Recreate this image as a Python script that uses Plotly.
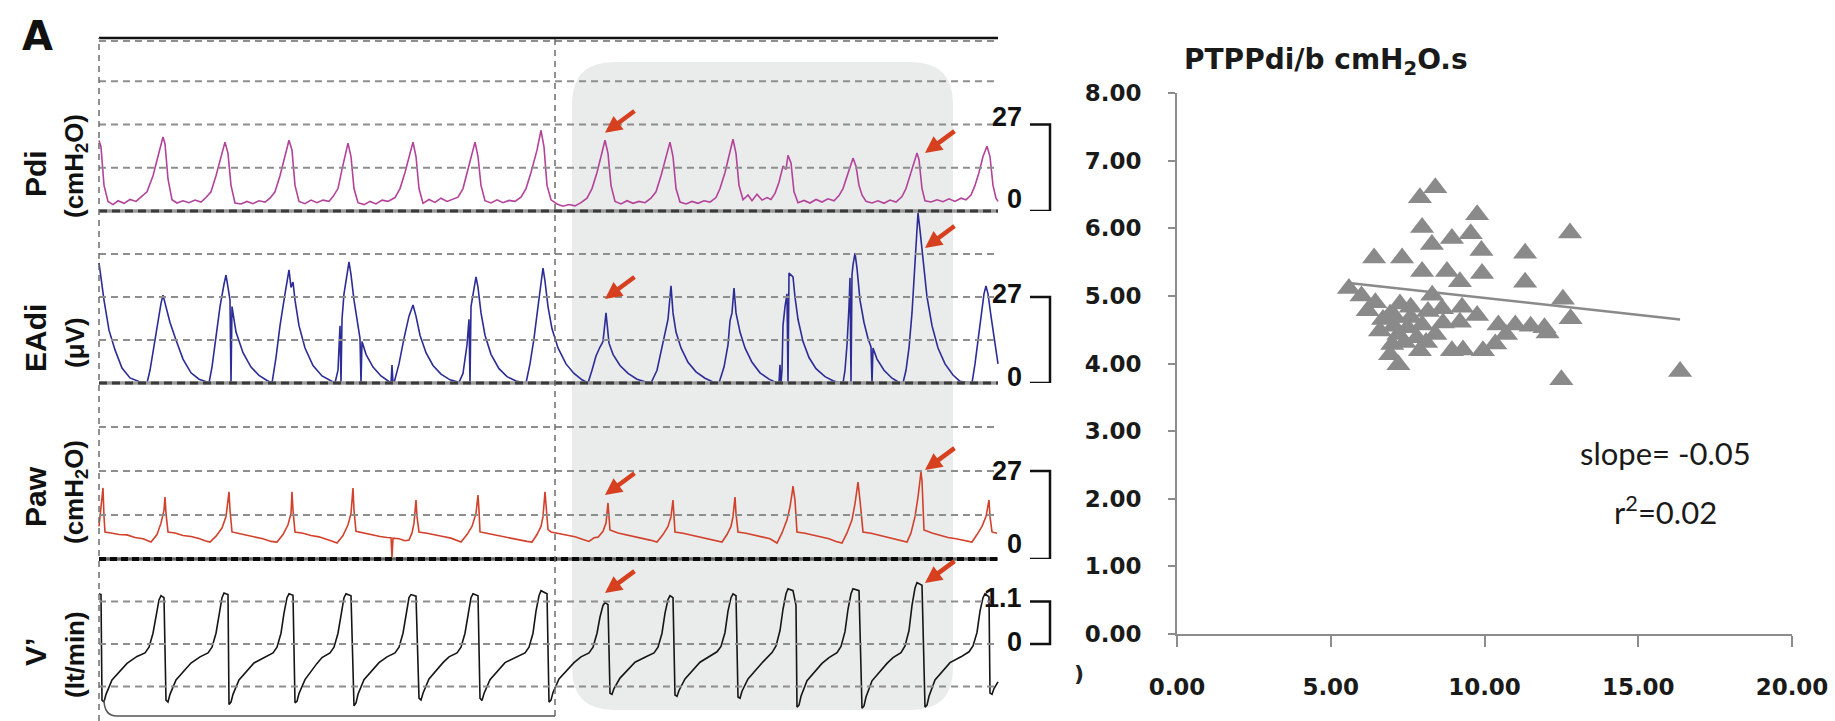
import plotly.graph_objects as go

W, H = 1835, 721
FS = 30.0  # waveform samples per second

# ---------------- waveform recordings: (sample, value) ----------------
pdi_pts = [
    (0, 22.0), (2, 20), (5, 8), (9, 3.0), (14, 2.0), (19, 3.2), (25, 2.4), (31, 3.6), (37, 3.0), (42, 4.4),
    (48, 6), (54, 11), (59, 17), (64, 23.1), (66, 21), (69, 10), (73, 3.5), (78, 2.5), (84, 3.2), (90, 2.6), (96, 3.4), (102, 2.8), (107, 4.2),
    (112, 6), (117, 11), (122, 17), (126, 21.5), (129, 18), (132, 8), (136, 2.5), (142, 2.2), (148, 3.0), (154, 2.3), (160, 3.2), (166, 2.8), (171, 4.0),
    (176, 6), (181, 11), (186, 17), (190, 22.1), (193, 19), (196, 8), (200, 3), (206, 2.3), (212, 3.4), (218, 2.6), (224, 3.4), (230, 3.0), (234, 4.5),
    (239, 7), (243, 13), (247, 19), (249, 21.2), (252, 17), (255, 7), (259, 2.6), (265, 2.0), (271, 3.0), (277, 2.2), (283, 3.4), (289, 3.0), (296, 4.2),
    (301, 7), (306, 12), (311, 18), (314, 21.5), (317, 17), (320, 7), (324, 2.4), (330, 3.6), (336, 2.7), (342, 4.0), (348, 3.0), (354, 3.8), (359, 4.3),
    (364, 7), (368, 12), (373, 18), (376, 21.5), (379, 17), (382, 8), (386, 3.2), (392, 2.5), (398, 3.5), (404, 2.6), (410, 3.3), (416, 3.0), (422, 4.3),
    (427, 7), (432, 12), (438, 19), (442, 25.2), (445, 20), (448, 8), (452, 3.5), (458, 2.2), (464, 1.5), (470, 2.0), (476, 1.6), (482, 2.6), (488, 4.0),
    (493, 7), (498, 12), (502, 17), (506, 22.1), (509, 18), (512, 8), (516, 3.0), (522, 2.2), (528, 3.2), (534, 2.4), (540, 3.0), (546, 2.6), (552, 4.0),
    (557, 6), (562, 11), (567, 17), (571, 21.5), (574, 17), (577, 7), (581, 2.8), (587, 2.2), (593, 3.0), (599, 2.4), (605, 3.2), (611, 2.8), (617, 4.2),
    (621, 7), (626, 12), (631, 18), (634, 22.4), (637, 18), (640, 8), (644, 3.5), (649, 5.0), (653, 3.2), (658, 5.2), (663, 3.4), (668, 4.2), (672, 3.6), (676, 5.5),
    (680, 9), (684, 14), (687, 13), (689, 17.4), (692, 15), (695, 6), (699, 2.6), (705, 3.3), (711, 2.5), (717, 3.6), (723, 2.8), (729, 3.8), (735, 3.2), (740, 4.8),
    (744, 7), (748, 11), (752, 15), (754, 16.5), (757, 14), (760, 8), (763, 5), (767, 3.0), (773, 2.5), (779, 3.2), (785, 2.4), (791, 3.4), (797, 2.8), (803, 4.5),
    (807, 7), (811, 11), (815, 15), (818, 18.1), (820, 16), (823, 7), (826, 3.2), (832, 2.8), (838, 3.5), (844, 2.9), (850, 3.8), (856, 3.0), (862, 4.0), (867, 3.5), (872, 5.0),
    (876, 8), (880, 12), (884, 17), (888, 20.2), (891, 17), (894, 8), (897, 4.0), (899, 3.0),
]

eadi_pts = [
    (0, 37.7), (5, 26), (10, 16.6), (16, 10.4), (23, 4.7), (31, 1.6), (41, 0.3), (48, 0),
    (51, 4), (55, 12), (59, 20), (62, 25), (64, 27.6), (67, 24), (71, 19), (77, 13.5), (84, 7.5), (92, 3.2), (100, 1.2), (108, 0.3), (110, 0),
    (113, 5), (117, 14), (121, 24), (125, 31), (127, 33.9), (129, 30), (131, 26), (132, 0), (133, 24), (137, 16), (144, 9.5), (152, 5), (160, 2.4), (168, 0.8), (173, 0),
    (177, 8), (181, 18), (186, 28), (190, 35.5), (192, 30), (194, 31.7), (196, 26), (200, 18), (206, 11), (214, 5.5), (223, 2.2), (233, 0.3), (236, 0),
    (239, 4), (241, 18), (242, 0), (243, 20), (245, 28), (248, 35), (250, 38), (252, 34), (255, 26), (259, 18), (261, 14), (262, 0), (263, 13), (267, 9), (274, 5), (282, 2.2), (291, 0.3), (292, 0), (293, 5.6), (294, 0),
    (295, 0), (300, 6), (305, 14), (310, 21), (314, 24.5), (317, 21), (321, 15), (327, 9.5), (334, 5.5), (342, 2.8), (351, 1), (360, 0.2),
    (364, 3), (368, 12), (370, 20), (371, 0), (372, 24), (375, 30), (377, 33.3), (379, 30), (382, 22), (386, 15), (392, 9), (400, 4.5), (408, 2), (417, 0.6), (425, 0),
    (427, 0), (431, 6), (435, 14), (439, 24), (442, 32), (444, 36.1), (446, 32), (449, 24), (453, 17), (459, 11), (467, 6), (475, 3), (483, 1), (489, 0),
    (493, 4), (497, 8.5), (501, 11.3), (504, 13), (507, 22.0), (509, 16), (510, 12.5), (514, 9), (521, 5.5), (529, 3), (538, 1.2), (547, 0.3), (552, 0),
    (558, 4), (562, 10), (566, 15.7), (569, 20), (572, 30.5), (574, 22), (577, 16), (582, 11), (589, 6.5), (597, 3.5), (606, 1.5), (614, 0.3), (620, 0),
    (625, 5), (629, 12), (631, 19.5), (633, 22), (635, 29.8), (637, 22), (641, 16), (646, 11), (653, 6.5), (661, 3.2), (670, 1.2), (678, 0), (680, 0), (681, 5.7), (682, 0),
    (683, 4), (684, 18), (686, 24), (688, 28), (689, 0), (690, 34.5), (694, 33.3), (696, 27), (699, 20), (704, 13), (710, 8), (717, 4.5), (726, 2), (734, 0.7), (741, 0),
    (744, 0), (746, 4), (748, 12), (750, 24), (751, 33), (752, 0), (753, 34), (754, 37), (756, 40.8), (758, 36), (761, 26), (765, 19), (769, 14), (772, 11.3), (773, 0), (774, 11), (778, 7.5), (785, 4), (793, 1.5), (801, 0),
    (804, 0), (807, 4), (810, 11), (813, 22), (816, 38), (818, 50), (819, 53.4), (821, 48), (824, 38), (828, 27), (833, 18), (839, 11), (846, 6), (854, 2.5), (861, 0.5), (873, 0),
    (876, 6), (879, 14), (882, 22), (885, 28), (887, 30.5), (889, 28), (892, 21), (896, 12), (899, 6),
]

paw_pts = [
    (0, 10), (1, 12.9), (3, 18), (4, 21.8), (5, 13), (6, 8.3), (12, 8.0), (20, 7.5), (28, 7.4), (36, 6.6), (44, 6.2), (50, 5.3),
    (52, 5.2), (58, 7.5), (62, 11), (65, 15), (66, 19.0), (67, 14), (69, 8.3), (76, 8.0), (84, 7.2), (92, 6.9), (100, 6.3), (106, 5.6), (111, 5.2),
    (117, 7), (123, 9.5), (127, 13), (130, 20.6), (131, 15), (133, 8.3), (140, 7.8), (148, 7.3), (156, 6.7), (164, 6.2), (172, 5.4), (178, 5.2),
    (184, 7.5), (189, 10.5), (192, 14), (193, 20.6), (194, 15), (196, 8.3), (204, 7.9), (212, 7.2), (220, 6.8), (228, 6.1), (234, 5.4), (238, 4.9),
    (244, 7.2), (249, 10.5), (252, 14), (254, 21.8), (255, 15), (257, 8.5), (265, 7.9), (273, 7.4), (281, 6.9), (288, 6.6), (292, 6.5), (293, 0.6), (294, 6.4), (300, 6.2), (306, 5.6), (310, 5.8),
    (313, 8), (315, 11), (317, 18.1), (318, 13), (320, 8.3), (328, 7.9), (336, 7.3), (344, 6.9), (352, 6.4), (358, 5.6), (362, 5.2),
    (368, 7.5), (373, 10), (377, 14), (379, 19.6), (380, 15), (381, 8.3), (389, 7.8), (397, 7.3), (405, 6.8), (413, 6.2), (421, 5.8), (428, 5.4), (433, 5.2),
    (438, 7.5), (442, 10), (444, 13), (446, 20.6), (448, 14), (449, 9), (452, 8.3), (460, 7.8), (468, 7.2), (476, 6.8), (484, 6.0), (490, 5.4), (495, 6.5),
    (499, 6.7), (504, 8.5), (507, 11), (509, 17.2), (510, 12), (511, 8.9), (519, 8.0), (527, 7.5), (535, 6.9), (543, 6.4), (551, 5.8), (558, 5.2),
    (564, 7.5), (569, 10), (572, 13), (574, 18.1), (575, 13), (576, 8.3), (584, 7.9), (592, 7.3), (600, 6.8), (608, 6.2), (616, 5.6), (623, 5.2),
    (628, 7.5), (632, 10), (634, 13), (636, 19.0), (637, 14), (639, 8.3), (647, 7.9), (655, 7.4), (663, 6.8), (671, 6.2), (678, 4.9),
    (683, 8), (688, 12), (691, 16), (693, 20), (694, 22.4), (696, 18), (698, 8.3), (706, 7.9), (714, 7.3), (722, 6.9), (730, 6.2), (737, 5.4), (743, 4.9),
    (748, 8), (753, 12), (756, 17), (759, 23.6), (761, 18), (764, 8.3), (772, 7.9), (780, 7.3), (788, 6.8), (796, 6.2), (803, 5.6), (808, 5.2),
    (812, 8), (816, 13), (819, 19), (822, 26.7), (823, 24), (825, 8.9), (833, 8.0), (841, 7.3), (849, 6.6), (857, 6.2), (865, 5.8), (873, 5.2),
    (878, 7.5), (883, 10), (887, 13), (890, 18.1), (891, 13), (893, 8.3), (898, 7.9),
]

flow_pts = [
    (0, 1.3), (2, 1.28), (3, -1.45), (5, -1.5), (7, -1.3), (13, -0.93), (28, -0.5), (38, -0.32), (46, -0.23), (50, -0.08), (54, 0.28), (57, 0.75), (60, 1.14), (62, 1.25), (65, 1.2),
    (67, -1.45), (69, -1.5), (71, -1.3), (77, -0.93), (92, -0.49), (101, -0.33), (109, -0.23), (113, -0.08), (117, 0.28), (120, 0.8), (123, 1.2), (125, 1.32), (129, 1.28),
    (130, -1.56), (132, -1.5), (134, -1.3), (140, -0.93), (155, -0.49), (166, -0.33), (174, -0.23), (178, -0.08), (182, 0.28), (185, 0.8), (188, 1.2), (190, 1.3), (194, 1.26),
    (196, -1.52), (198, -1.48), (200, -1.28), (206, -0.92), (218, -0.5), (223, -0.35), (231, -0.23), (235, -0.08), (239, 0.28), (242, 0.8), (245, 1.2), (247, 1.3), (252, 1.25),
    (255, -1.6), (257, -1.52), (259, -1.3), (265, -0.92), (280, -0.48), (288, -0.33), (296, -0.23), (300, -0.08), (304, 0.28), (307, 0.8), (310, 1.2), (312, 1.28), (317, 1.24),
    (320, -1.4), (322, -1.45), (324, -1.27), (330, -0.9), (344, -0.48), (350, -0.33), (358, -0.23), (362, -0.08), (366, 0.28), (369, 0.8), (372, 1.2), (374, 1.3), (379, 1.25),
    (381, -1.4), (383, -1.46), (385, -1.28), (391, -0.92), (406, -0.48), (418, -0.33), (426, -0.23), (430, -0.08), (434, 0.28), (437, 0.85), (440, 1.25), (442, 1.38), (448, 1.3),
    (450, -1.5), (452, -1.45), (454, -1.25), (460, -0.9), (475, -0.48), (482, -0.33), (490, -0.23), (494, -0.08), (498, 0.28), (501, 0.7), (504, 1.0), (506, 1.07), (509, 1.02),
    (511, -1.27), (513, -1.3), (515, -1.15), (521, -0.88), (536, -0.47), (547, -0.33), (555, -0.23), (559, -0.08), (563, 0.28), (566, 0.8), (569, 1.15), (571, 1.25), (574, 1.2),
    (576, -1.32), (578, -1.35), (580, -1.2), (586, -0.9), (601, -0.47), (610, -0.33), (618, -0.2), (622, -0.06), (626, 0.3), (629, 0.85), (632, 1.2), (634, 1.3), (637, 1.25),
    (639, -1.37), (641, -1.4), (643, -1.22), (649, -0.9), (664, -0.46), (668, -0.35), (673, -0.22), (677, -0.05), (681, 0.35), (684, 0.9), (687, 1.3), (689, 1.43), (694, 1.38), (697, 1.0),
    (698, -1.63), (700, -1.58), (702, -1.35), (708, -0.95), (723, -0.5), (730, -0.35), (738, -0.22), (742, -0.06), (746, 0.32), (749, 0.9), (752, 1.3), (754, 1.43), (760, 1.38),
    (763, -1.66), (765, -1.6), (767, -1.37), (773, -0.95), (788, -0.5), (794, -0.35), (802, -0.22), (806, -0.05), (810, 0.35), (813, 1.0), (816, 1.45), (818, 1.59), (823, 1.52),
    (826, -1.63), (828, -1.58), (830, -1.35), (836, -0.93), (851, -0.48), (862, -0.33), (870, -0.2), (874, -0.05), (878, 0.3), (881, 0.85), (884, 1.2), (886, 1.3), (890, 1.22),
    (891, -1.27), (893, -1.3), (895, -1.15), (899, -0.98),
]

# highlighted breaths (arrow tips): (sample, value)
pdi_marks = [(506, 24.4), (826, 18.1)]
eadi_marks = [(506, 26.4), (826, 42.4)]
paw_marks = [(506, 19.6), (826, 27.3)]
flow_marks = [(506, 1.32), (826, 1.58)]

# scale bars on the right of each strip
pdi_scale = ("27", 27, "0", 0)
eadi_scale = ("27", 27, "0", 0)
paw_scale = ("27", 27, "0", 0)
flow_scale = ("1.1", 1.1, "0", 0)

# dashed reference levels of each strip
pdi_grid = [13.5, 27, 40.5]
eadi_grid = [13.5, 27, 40.5]
paw_grid = [13.5, 27, 40.5]
flow_grid = [-1.1, 0, 1.1]

# ---------------- PTPPdi/b vs x scatter ----------------
ptp_x = [8.40, 7.90, 9.76, 7.97, 12.78, 9.55, 8.94, 8.29, 9.90, 11.32, 6.41, 7.32, 7.97, 8.78, 9.92,
         9.20, 11.32, 5.59, 6.00, 8.30, 12.55, 6.45, 7.25, 7.60, 9.27, 8.62, 8.16, 6.93, 9.76, 12.80,
         9.20, 7.05, 7.50, 7.97, 8.65, 10.45, 11.00, 11.50, 11.95, 12.05, 10.70, 10.35, 7.20, 7.80, 6.70,
         7.40, 8.10, 7.00, 6.93, 7.90, 8.94, 9.30, 9.95, 7.20, 12.50, 16.36, 6.60, 7.60, 8.40, 6.20, 7.10]
ptp_y = [6.60, 6.45, 6.20, 6.01, 5.93, 5.92, 5.85, 5.76, 5.67, 5.63, 5.56, 5.56, 5.36, 5.36, 5.33,
         5.21, 5.20, 5.11, 5.00, 5.01, 4.95, 4.90, 4.88, 4.83, 4.83, 4.81, 4.77, 4.73, 4.71, 4.66,
         4.61, 4.55, 4.53, 4.57, 4.60, 4.57, 4.57, 4.55, 4.53, 4.45, 4.43, 4.29, 4.43, 4.38, 4.65,
         4.31, 4.31, 4.28, 4.13, 4.19, 4.19, 4.20, 4.19, 3.98, 3.76, 3.88, 4.48, 4.68, 4.43, 4.78, 4.68]
fit_slope = -0.05
fit_intercept = 5.47
fit_r2 = 0.02

# ---------------- helpers ----------------
def py(p):
    return 1 - p / H


def rounded_rect(x0, x1, y0, y1, rx, ry):
    return (f"M {x0 + rx},{y1} L {x1 - rx},{y1} Q {x1},{y1} {x1},{y1 - ry} "
            f"L {x1},{y0 + ry} Q {x1},{y0} {x1 - rx},{y0} L {x0 + rx},{y0} "
            f"Q {x0},{y0} {x0},{y0 + ry} L {x0},{y1 - ry} Q {x0},{y1} {x0 + rx},{y1} Z")


t_end = 899 / FS
fig = go.Figure()

strips = [
    ("y", pdi_pts, "#b3429a", pdi_grid, pdi_marks, pdi_scale, (7, 12)),
    ("y2", eadi_pts, "#2c2c96", eadi_grid, eadi_marks, eadi_scale, (3, 6)),
    ("y3", paw_pts, "#d2412b", paw_grid, paw_marks, paw_scale, (0, 15)),
    ("y4", flow_pts, "#151515", flow_grid, flow_marks, flow_scale, (4, 2)),
]

shapes = []
annotations = []

# grey highlighted region of the second half of the recording
shapes.append(dict(type="path", xref="x", yref="paper", layer="below",
                   path=rounded_rect(473 / FS, 854 / FS, py(710), py(62), 1.4, 42 / H),
                   fillcolor="#eaebeb", line=dict(width=0)))

for yref, pts, color, grid, marks, scale, shifts in strips:
    fig.add_trace(go.Scatter(x=[s / FS for s, _ in pts], y=[v for _, v in pts], mode="lines",
                             line=dict(color=color, width=1.6), xaxis="x", yaxis=yref,
                             hoverinfo="skip", showlegend=False))
    for g in grid:
        shapes.append(dict(type="line", xref="x", yref=yref, x0=0, x1=t_end, y0=g, y1=g,
                           line=dict(color="#8e8e8e", width=2, dash="7px,5px")))
    top_lbl, top_v, bot_lbl, bot_v = scale
    bx0, bx1 = 931 / FS, 951 / FS
    shapes.append(dict(type="path", xref="x", yref=yref,
                       path=f"M {bx0},{top_v} L {bx1},{top_v} L {bx1},{bot_v} L {bx0},{bot_v}",
                       line=dict(color="#111111", width=2.5)))
    for lbl, v, ys in ((top_lbl, top_v, shifts[0]), (bot_lbl, bot_v, shifts[1])):
        annotations.append(dict(x=925 / FS, y=v, xref="x", yref=yref, text=lbl, showarrow=False,
                                xanchor="right", yanchor="middle", yshift=ys,
                                font=dict(family="Liberation Sans", size=27, color="#111111", weight="bold")))
    for s, v in marks:
        annotations.append(dict(x=s / FS, y=v, xref="x", yref=yref, text="", showarrow=True,
                                ax=31, ay=-23, arrowhead=2, arrowsize=0.75, arrowwidth=4.5,
                                arrowcolor="#d6401f"))

# strip borders
shapes += [
    dict(type="line", xref="x", yref="paper", x0=0, x1=t_end, y0=py(38), y1=py(38), line=dict(color="#111", width=2.5)),
    dict(type="line", xref="x", yref="paper", x0=0, x1=t_end, y0=py(41), y1=py(41), line=dict(color="#8e8e8e", width=2, dash="7px,5px")),
]
for row in (211, 383):
    shapes.append(dict(type="line", xref="x", yref="paper", x0=0, x1=t_end, y0=py(row), y1=py(row),
                       line=dict(color="#9a9a9a", width=3.5)))
    shapes.append(dict(type="line", xref="x", yref="paper", x0=0, x1=t_end, y0=py(row), y1=py(row),
                       line=dict(color="#3a3a3a", width=3, dash="8px,5px")))
shapes.append(dict(type="line", xref="x", yref="paper", x0=0, x1=t_end, y0=py(559), y1=py(559),
                   line=dict(color="#666", width=3.5)))
shapes.append(dict(type="line", xref="x", yref="paper", x0=0, x1=t_end, y0=py(559), y1=py(559),
                   line=dict(color="#0a0a0a", width=4, dash="7px,4px")))

# vertical dashed time markers
for t, bottom in ((0, 721), (456 / FS, 716)):
    shapes.append(dict(type="line", xref="x", yref="paper", x0=t, x1=t, y0=py(bottom), y1=py(38),
                       line=dict(color="#6e6e6e", width=1.5, dash="6px,5px")))
shapes.append(dict(type="path", xref="x", yref="paper",
                   path=f"M 0.17,{py(700)} Q 0.17,{py(716)} 0.6,{py(716)} L {456 / FS},{py(716)}",
                   line=dict(color="#555", width=1.5)))

# strip titles
row_labels = [("Pdi", "(cmH<sub>2</sub>O)", 174, 166), ("EAdi", "(μV)", 338, 343),
              ("Paw", "(cmH<sub>2</sub>O)", 497, 492), ("V’", "(lt/min)", 652, 655)]
for name, unit, yc1, yc2 in row_labels:
    annotations.append(dict(x=35 / W, y=py(yc1), xref="paper", yref="paper", text=name, showarrow=False,
                            textangle=-90, xanchor="center", yanchor="middle",
                            font=dict(family="Liberation Sans", size=30, color="#111", weight="bold")))
    annotations.append(dict(x=75 / W, y=py(yc2), xref="paper", yref="paper", text=unit, showarrow=False,
                            textangle=-90, xanchor="center", yanchor="middle",
                            font=dict(family="Liberation Sans", size=26, color="#111", weight="bold")))

annotations.append(dict(x=37 / W, y=py(36), xref="paper", yref="paper", text="A", showarrow=False,
                        xanchor="center", yanchor="middle",
                        font=dict(family="DejaVu Sans", size=40, color="#111", weight="bold")))

# ---------------- scatter panel ----------------
fig.add_trace(go.Scatter(x=ptp_x, y=ptp_y, mode="markers", xaxis="x2", yaxis="y5",
                         marker=dict(symbol="triangle-up", size=21, color="#8a8a8a"),
                         hoverinfo="skip", showlegend=False))
fit_x = [min(ptp_x), max(ptp_x)]
fig.add_trace(go.Scatter(x=fit_x, y=[fit_intercept + fit_slope * x for x in fit_x], mode="lines",
                         xaxis="x2", yaxis="y5", line=dict(color="#8a8a8a", width=2.5),
                         hoverinfo="skip", showlegend=False))

annotations.append(dict(x=1182 / W, y=py(62), xref="paper", yref="paper",
                        text="PTPPdi/b cmH<sub>2</sub>O.s", showarrow=False, xanchor="left", yanchor="middle",
                        font=dict(family="DejaVu Sans", size=28, color="#1a1a1a", weight="bold")))
annotations.append(dict(x=15.9, y=2.68, xref="x2", yref="y5", text=f"slope= {fit_slope:.2f}",
                        showarrow=False, font=dict(family="Lato", size=31, color="#1a1a1a")))
annotations.append(dict(x=15.9, y=1.82, xref="x2", yref="y5", text=f"r<sup>2</sup>={fit_r2:.2f}",
                        showarrow=False, font=dict(family="Lato", size=31, color="#1a1a1a")))
annotations.append(dict(x=1079 / W, y=py(688), xref="paper", yref="paper", text=")", showarrow=False,
                        font=dict(family="DejaVu Sans", size=22, color="#222", weight="bold")))

tick_font = dict(family="DejaVu Sans", size=23, color="#1a1a1a", weight="bold")
axis_common = dict(showline=True, linecolor="#8c8c8c", linewidth=2, ticks="outside", tickcolor="#8c8c8c",
                   tickwidth=2, showgrid=False, zeroline=False, tickformat=".2f", tickfont=tick_font,
                   automargin=False)

fig.update_layout(
    width=W, height=H, margin=dict(l=0, r=0, t=0, b=0, pad=0, autoexpand=False),
    paper_bgcolor="white", plot_bgcolor="rgba(0,0,0,0)", showlegend=False,
    xaxis=dict(domain=[96 / W, 1060 / W], range=[-0.1, 961 / FS], visible=False, anchor="y4", automargin=False),
    yaxis=dict(domain=[py(211), py(38)], range=[0, 54], visible=False, anchor="x", automargin=False),
    yaxis2=dict(domain=[py(383), py(211)], range=[0, 54], visible=False, anchor="x", automargin=False),
    yaxis3=dict(domain=[py(559), py(383)], range=[0, 54], visible=False, anchor="x", automargin=False),
    yaxis4=dict(domain=[0, py(559)], range=[-1.99, 2.2], visible=False, anchor="x", automargin=False),
    xaxis2=dict(domain=[1177 / W, 1792 / W], range=[0, 20], dtick=5, ticklen=11,
                ticklabelstandoff=20, anchor="y5", **axis_common),
    yaxis5=dict(domain=[py(634), py(93)], range=[0, 8], dtick=1, ticklen=7,
                ticklabelstandoff=22, anchor="x2", **axis_common),
    shapes=shapes, annotations=annotations,
)

# the page body keeps no default margin so the figure sits flush in the window
fig.write_html("out.html", config={"displayModeBar": False},
               post_script="document.body.style.margin='0';document.body.style.overflow='hidden';")
